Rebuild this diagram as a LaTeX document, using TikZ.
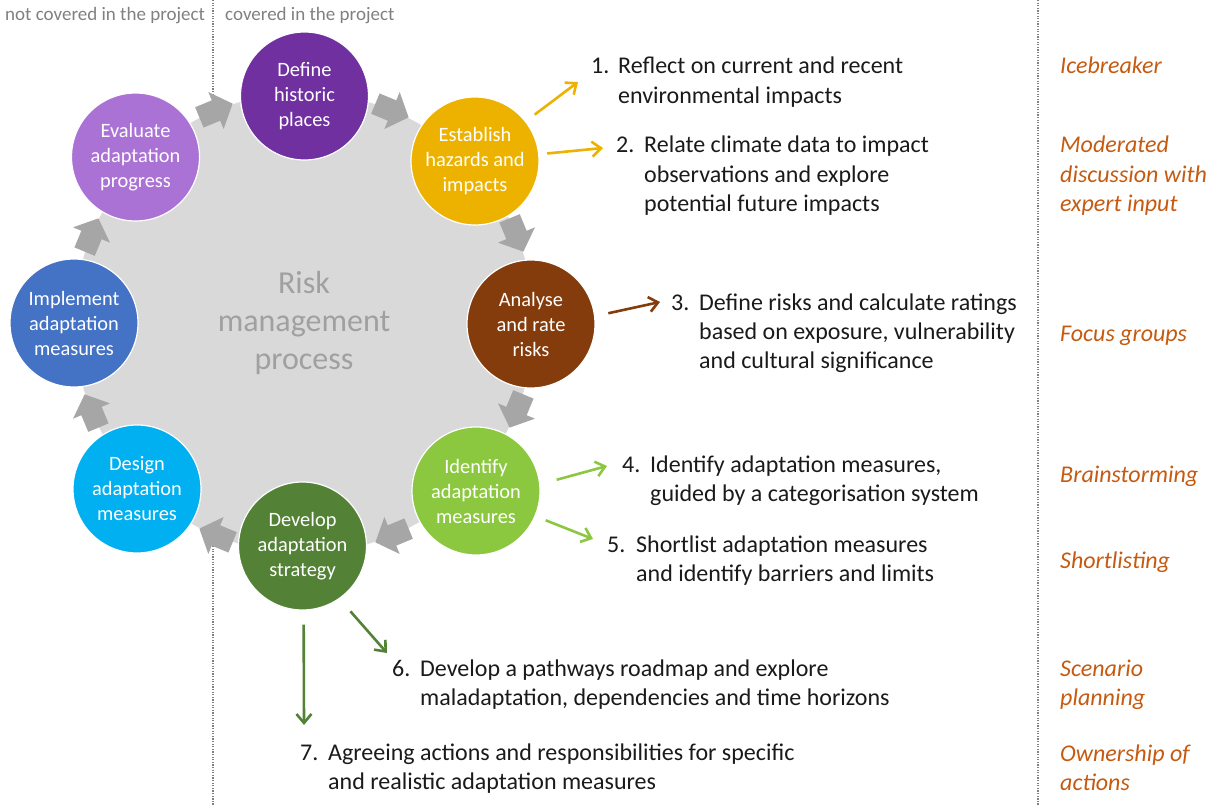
\documentclass[tikz,border=0pt]{standalone}
\usepackage{fontspec}
\setmainfont{Carlito}
\usetikzlibrary{arrows.meta}
\definecolor{cpurple}{HTML}{7030A0}
\definecolor{cgold}{HTML}{EDB200}
\definecolor{cbrown}{HTML}{843C0C}
\definecolor{clgreen}{HTML}{8CC83F}
\definecolor{cdgreen}{HTML}{538135}
\definecolor{ccyan}{HTML}{00B0F0}
\definecolor{cblue}{HTML}{4472C4}
\definecolor{clilac}{HTML}{AA72D4}
\definecolor{discgray}{HTML}{D9D9D9}
\definecolor{ringarr}{HTML}{A6A6A6}
\definecolor{headgray}{HTML}{808080}
\definecolor{riskgray}{HTML}{A0A0A0}
\definecolor{corange}{HTML}{C55A11}
\definecolor{divgray}{HTML}{808080}
\definecolor{txt}{HTML}{1A1A1A}
\begin{document}
\begin{tikzpicture}[x=1pt,y=1pt,
  proc/.style={circle, minimum size=128pt, inner sep=0pt, draw=white, line width=1.2pt,
    text=white, align=center, font=\fontsize{20.4}{25}\selectfont},
  item/.style={anchor=base west, align=left, inner sep=0pt,
    font=\fontsize{24}{29.3}\selectfont, text=txt},
  method/.style={anchor=base west, align=left, inner sep=0pt,
    font=\fontsize{24}{29.3}\selectfont\itshape, text=corange},
  header/.style={anchor=base west, inner sep=0pt, font=\fontsize{19}{22}\selectfont, text=headgray},
  link/.style={line width=2.6pt, -{Straight Barb[length=9pt,width=15pt]}},
  ringarrow/.style={fill=ringarr},
  divline/.style={divgray, line width=1.3pt, dash pattern=on 1.3pt off 1.3pt}]

\useasboundingbox (0,0) rectangle (1213,-805);

% dividers
\draw[divline] (213,0) -- (213,-805);
\draw[divline] (1038,0) -- (1038,-805);

% headers
\node[header] (nc) at (5,-21) {not covered in the project};
\node[header] (cv) at (225,-21) {covered in the project};

% background disc
\fill[discgray] (304,-323) circle (230);

% ring arrows (clockwise)
\foreach \a in {112.5,67.5,22.5,-22.5,-67.5,-112.5,-157.5,157.5}{
  \fill[ringarrow, shift={(304,-323)}, rotate=\a, shift={(230,0)}, rotate=-90]
    (-18,-11) -- (0,-11) -- (0,-20) -- (18,0) -- (0,20) -- (0,11) -- (-18,11) -- cycle;
}

% process circles
\node[proc, fill=cpurple]  (define)    at (304.5,-96)  {Define\\historic\\places};
\node[proc, fill=cgold]    (establish) at (475,-161)   {Establish\\hazards and\\impacts};
\node[proc, fill=cbrown]   (analyse)   at (531,-324)   {Analyse\\and rate\\risks};
\node[proc, fill=clgreen]  (identify)  at (476,-491)   {Identify\\adaptation\\measures};
\node[proc, fill=cdgreen]  (develop)   at (302.5,-546) {Develop\\adaptation\\strategy};
\node[proc, fill=ccyan]    (design)    at (137,-489)   {Design\\adaptation\\measures};
\node[proc, fill=cblue]    (implement) at (74,-323)    {Implement\\adaptation\\measures};
\node[proc, fill=clilac]   (evaluate)  at (135.5,-157) {Evaluate\\adaptation\\progress};

% centre label
\node[font=\fontsize{32}{38}\selectfont, text=riskgray, align=center] (risk) at (304,-323)
  {Risk\\management\\process};

% numbered steps (anchor = baseline of the last line)
\node[item] (i1) at (591,-103.3) {\makebox[27pt][l]{1.}Reflect on current and recent\\\hspace*{27pt}environmental impacts};
\node[item] (i2) at (616,-211.6) {\makebox[28pt][l]{2.}Relate climate data to impact\\\hspace*{28pt}observations and explore\\\hspace*{28pt}potential future impacts};
\node[item] (i3) at (671,-368.6) {\makebox[28pt][l]{3.}Define risks and calculate ratings\\\hspace*{28pt}based on exposure, vulnerability\\\hspace*{28pt}and cultural significance};
\node[item] (i4) at (622,-501.3) {\makebox[28pt][l]{4.}Identify adaptation measures,\\\hspace*{28pt}guided by a categorisation system};
\node[item] (i5) at (607,-581.3) {\makebox[29pt][l]{5.}Shortlist adaptation measures\\\hspace*{29pt}and identify barriers and limits};
\node[item] (i6) at (392,-705.3) {\makebox[28pt][l]{6.}Develop a pathways roadmap and explore\\\hspace*{28pt}maladaptation, dependencies and time horizons};
\node[item] (i7) at (300,-789.3) {\makebox[28pt][l]{7.}Agreeing actions and responsibilities for specific\\\hspace*{28pt}and realistic adaptation measures};

% methods
\node[method] (m1) at (1060,-74)    {Icebreaker};
\node[method] (m2) at (1060,-211.6) {Moderated\\discussion with\\expert input};
\node[method] (m3) at (1060,-341)   {Focus groups};
\node[method] (m4) at (1060,-482)   {Brainstorming};
\node[method] (m5) at (1060,-568)   {Shortlisting};
\node[method] (m6) at (1060,-705.3) {Scenario\\planning};
\node[method] (m7) at (1060,-790.3) {Ownership of\\actions};

% link end points
\coordinate (t1) at (578,-82);
\coordinate (t2) at (603,-148);
\coordinate (t3) at (660,-302);
\coordinate (t4) at (607,-466);
\coordinate (t5) at (593,-539);
\coordinate (t6) at (387,-653);
\coordinate (t7) at (304,-725);

\draw[link, cgold,   shorten <=11pt]   (establish.38)  -- (t1);
\draw[link, cgold,   shorten <=8pt]    (establish.6)   -- (t2);
\draw[link, cbrown,  shorten <=13.5pt] (analyse.7)     -- (t3);
\draw[link, clgreen, shorten <=17pt]   (identify.6)    -- (t4);
\draw[link, clgreen, shorten <=11pt]   (identify.-23)  -- (t5);
\draw[link, cdgreen, shorten <=16.5pt] (develop.-55)   -- (t6);
\draw[link, cdgreen, shorten <=14pt]   (develop.-89)   -- (t7);
\end{tikzpicture}
\end{document}
